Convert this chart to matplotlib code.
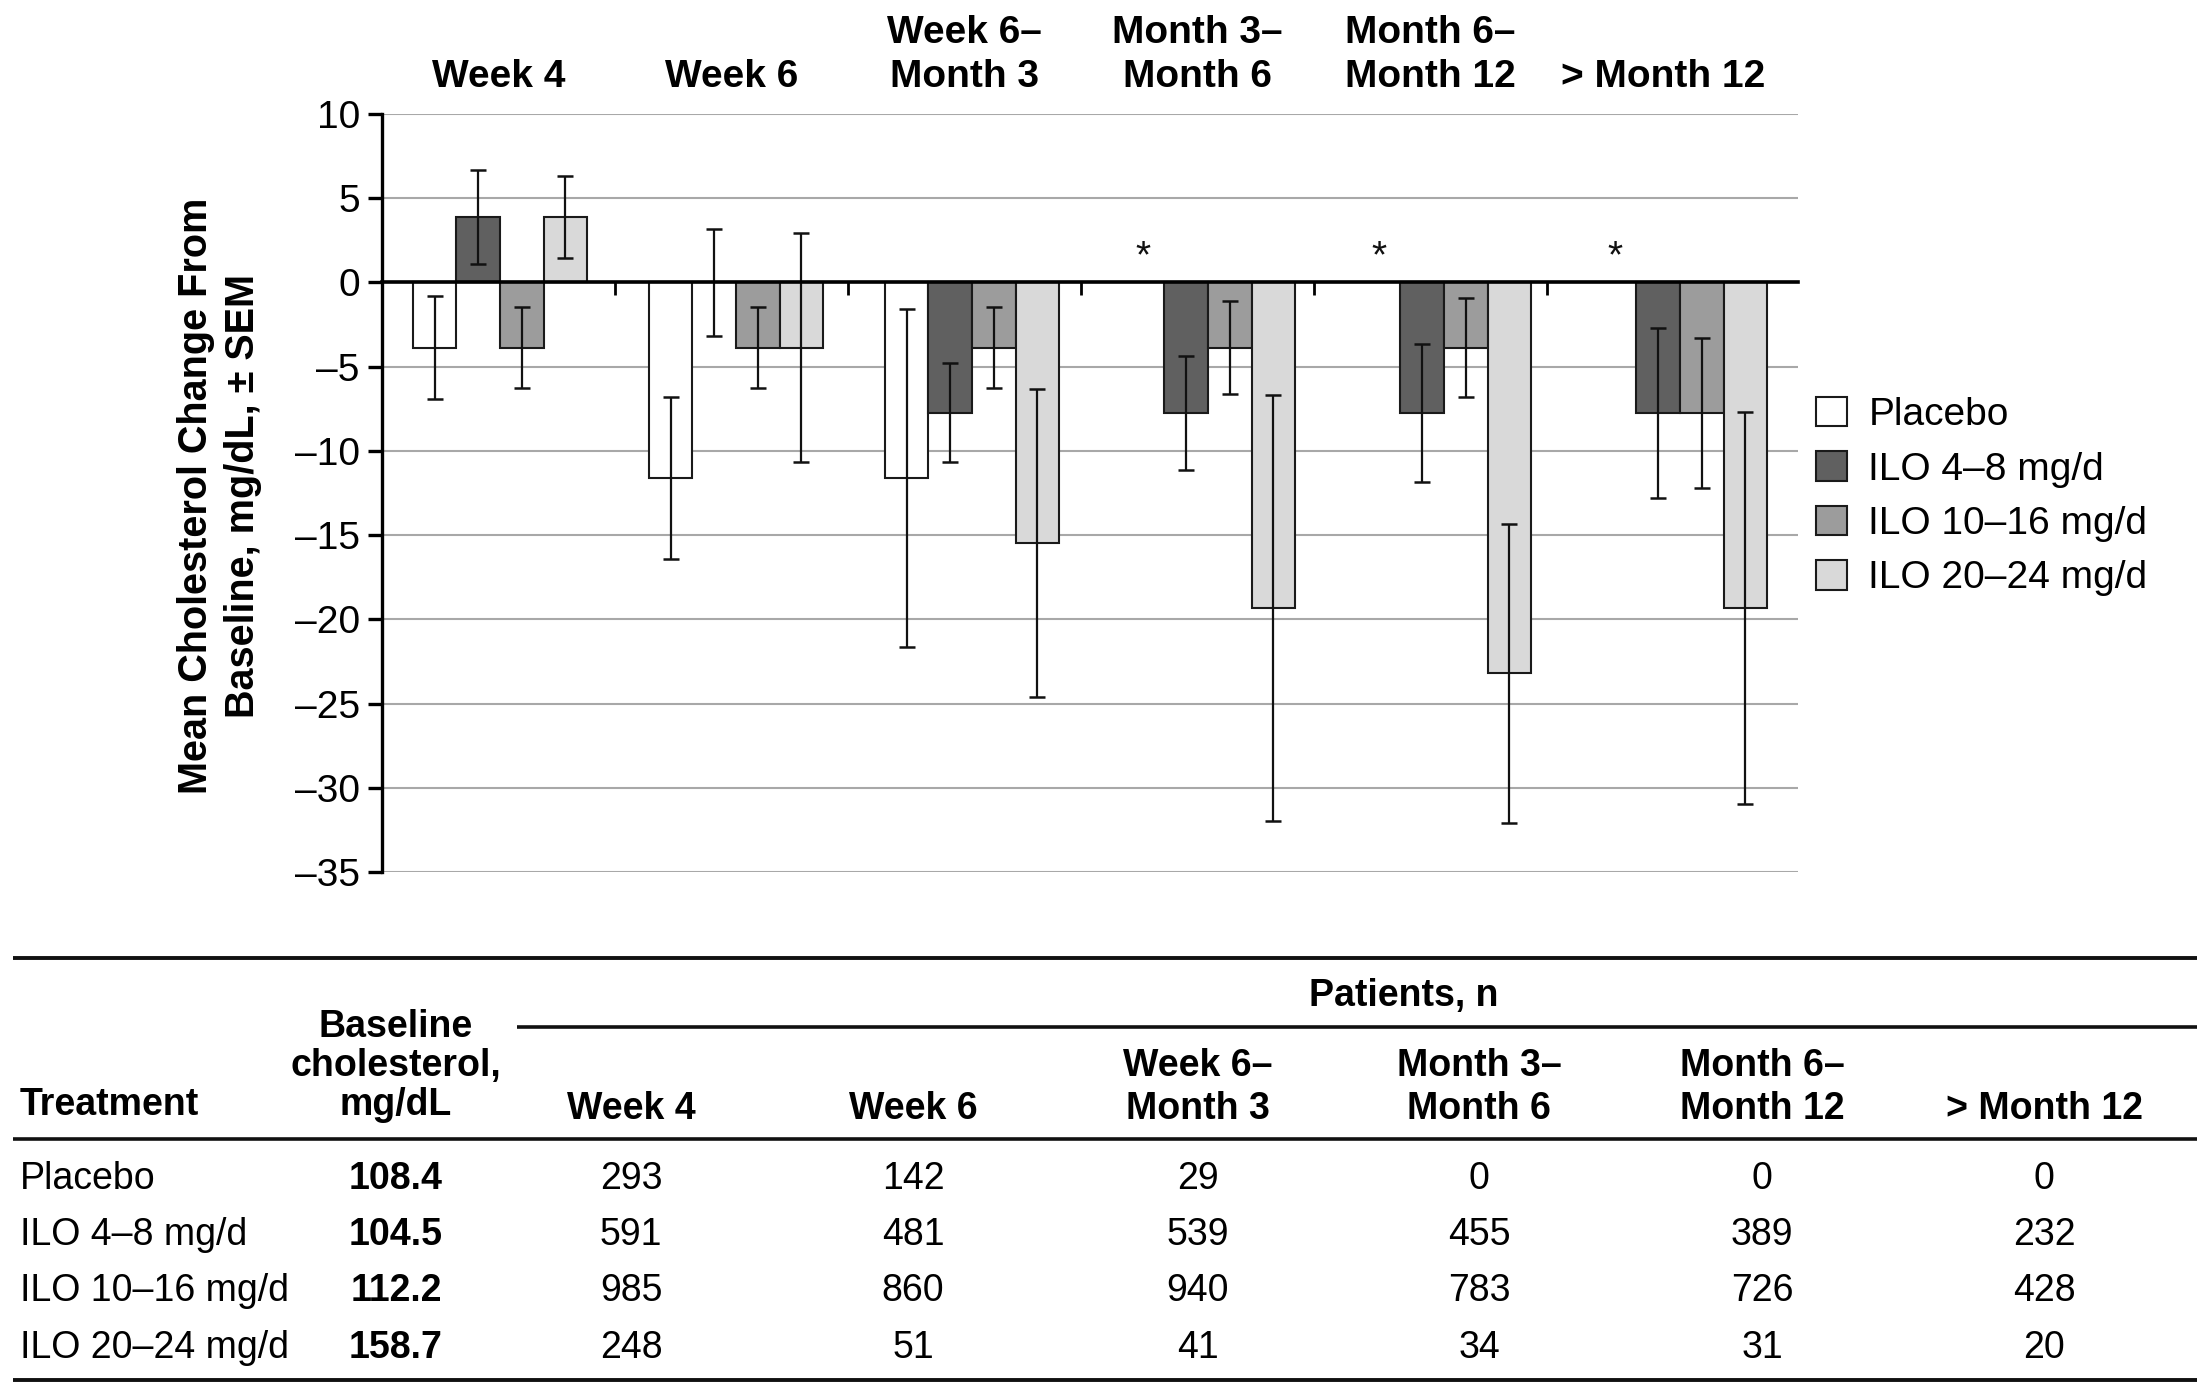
import numpy as np
import matplotlib
matplotlib.use("Agg")
import matplotlib.pyplot as plt
from matplotlib.patches import Patch
from matplotlib.transforms import blended_transform_factory

plt.rcParams['font.family'] = ['Liberation Sans', 'DejaVu Sans']

# chart data (mg/dL change from baseline, mean and SEM)
periods = ["Week 4", "Week 6", "Week 6–\nMonth 3", "Month 3–\nMonth 6",
           "Month 6–\nMonth 12", "> Month 12"]
series = ["Placebo", "ILO 4–8 mg/d", "ILO 10–16 mg/d", "ILO 20–24 mg/d"]
placebo_mean = [-3.87, -11.6, -11.6, np.nan, np.nan, np.nan]
placebo_sem = [3.05, 4.8, 10.05, np.nan, np.nan, np.nan]
ilo48_mean = [3.87, 0.0, -7.74, -7.74, -7.74, -7.74]
ilo48_sem = [2.8, 3.15, 2.93, 3.38, 4.1, 5.03]
ilo1016_mean = [-3.87, -3.87, -3.87, -3.87, -3.87, -7.74]
ilo1016_sem = [2.4, 2.4, 2.4, 2.76, 2.95, 4.47]
ilo2024_mean = [3.87, -3.87, -15.47, -19.34, -23.2, -19.34]
ilo2024_sem = [2.43, 6.8, 9.15, 12.63, 8.88, 11.65]
yticks = [10, 5, 0, -5, -10, -15, -20, -25, -30, -35]

# table data
table_cols = ["Week 4", "Week 6", "Week 6–\nMonth 3", "Month 3–\nMonth 6",
              "Month 6–\nMonth 12", "> Month 12"]
baseline_chol = ["108.4", "104.5", "112.2", "158.7"]
patients_n = [
    [293, 142, 29, 0, 0, 0],
    [591, 481, 539, 455, 389, 232],
    [985, 860, 940, 783, 726, 428],
    [248, 51, 41, 34, 31, 20],
]

colors = ["#ffffff", "#606060", "#9c9c9c", "#d9d9d9"]
edge = "#1a1a1a"
W, H = 2203, 1391

fig = plt.figure(figsize=(W / 100, H / 100), dpi=100)
ax = fig.add_axes([382 / W, 1 - 872 / H, (1798 - 382) / W, (872 - 114) / H])

means = [placebo_mean, ilo48_mean, ilo1016_mean, ilo2024_mean]
sems = [placebo_sem, ilo48_sem, ilo1016_sem, ilo2024_sem]
x = np.arange(len(periods))
bw = 0.185
for k in range(4):
    m = np.array(means[k], dtype=float)
    s = np.array(sems[k], dtype=float)
    ok = ~np.isnan(m)
    xs = x[ok] + (k - 1.5) * bw
    ax.bar(xs, m[ok], width=bw, color=colors[k], edgecolor=edge,
           linewidth=1.5, zorder=2)
    ax.errorbar(xs, m[ok], yerr=s[ok], fmt='none', ecolor='#111111',
                elinewidth=1.6, capsize=6, capthick=1.8, zorder=3)

# asterisks where placebo has no patients
for i in range(len(periods)):
    if np.isnan(placebo_mean[i]):
        ax.text(x[i] - 1.5 * bw, 1.5, "*", ha='center', va='center',
                fontsize=28, color='#111111')

ax.set_xlim(-0.5, len(periods) - 0.5)
ax.set_ylim(-35, 10)
ax.set_yticks(yticks)
ax.set_yticklabels([str(v).replace('-', '–') for v in yticks], fontsize=28)
ax.yaxis.grid(True, color='#a8a8a8', linewidth=1.5)
ax.set_axisbelow(True)
for sp in ['top', 'right']:
    ax.spines[sp].set_visible(False)
ax.spines['left'].set_linewidth(2.4)
ax.spines['bottom'].set_position(('data', 0))
ax.spines['bottom'].set_linewidth(2.6)
ax.spines['bottom'].set_zorder(4)

# the category axis of the original runs on a slightly tighter pitch
cat_scale = 233 / 236
ax.set_xticks(np.arange(1, len(periods)) * cat_scale - 0.5)
ax.set_xticklabels([])
ax.tick_params(axis='x', direction='out', length=9, width=2)
ax.tick_params(axis='y', direction='out', length=10, width=2.4, pad=6)

trans = blended_transform_factory(ax.transData, ax.transAxes)
for i, lab in enumerate(periods):
    ax.text((i + 0.5) * cat_scale - 0.5, 1.025, lab, transform=trans,
            ha='center', va='bottom', fontsize=28, fontweight='bold',
            linespacing=1.28)

fig.text(220 / W, 1 - 496 / H,
         "Mean Cholesterol Change From\nBaseline, mg/dL, ± SEM",
         rotation=90, ha='center', va='center', fontsize=28.5,
         fontweight='bold', multialignment='center', linespacing=1.3)

handles = [Patch(facecolor=c, edgecolor=edge, linewidth=1.5) for c in colors]
fig.legend(handles, series, loc='upper left',
           bbox_to_anchor=(1816 / W, 1 - 397 / H), frameon=False,
           fontsize=28, handlelength=0.8, handleheight=0.78,
           handletextpad=0.55, labelspacing=0.47, borderpad=0,
           borderaxespad=0)

# table drawn in pixel coordinates
tb = fig.add_axes([0, 0, 1, 1])
tb.set_xlim(0, W)
tb.set_ylim(H, 0)
tb.axis('off')

for yy, x0, lw in [(958, 13, 2.8), (1027, 517, 2.6), (1139, 13, 2.6),
                   (1380, 13, 2.8)]:
    tb.plot([x0, 2197], [yy, yy], color='#111111', linewidth=lw,
            solid_capstyle='butt')

fs = 27
col_x = [631, 913, 1198, 1479, 1762, 2044]
tb.text(1404, 996, "Patients, n", ha='center', va='center', fontsize=fs,
        fontweight='bold')
tb.text(20, 1115, "Treatment", ha='left', va='baseline', fontsize=fs,
        fontweight='bold')
tb.text(396, 1115, "Baseline\ncholesterol,\nmg/dL", ha='center',
        va='baseline', fontsize=fs, fontweight='bold', linespacing=1.1,
        multialignment='center')
for cx, lab in zip(col_x, table_cols):
    lines = lab.split("\n")
    for j, ln in enumerate(reversed(lines)):
        tb.text(cx, 1119 - j * 43, ln, ha='center', va='baseline',
                fontsize=fs, fontweight='bold')

row_y = [1176, 1232, 1288, 1345]
for r, name in enumerate(series):
    yb = row_y[r] + 13
    tb.text(20, yb, name, ha='left', va='baseline', fontsize=fs)
    tb.text(396, yb, baseline_chol[r], ha='center', va='baseline',
            fontsize=fs, fontweight='bold')
    for cx, n in zip(col_x, patients_n[r]):
        tb.text(cx, yb, str(n), ha='center', va='baseline', fontsize=fs)

fig.savefig("out.png", dpi=100)
